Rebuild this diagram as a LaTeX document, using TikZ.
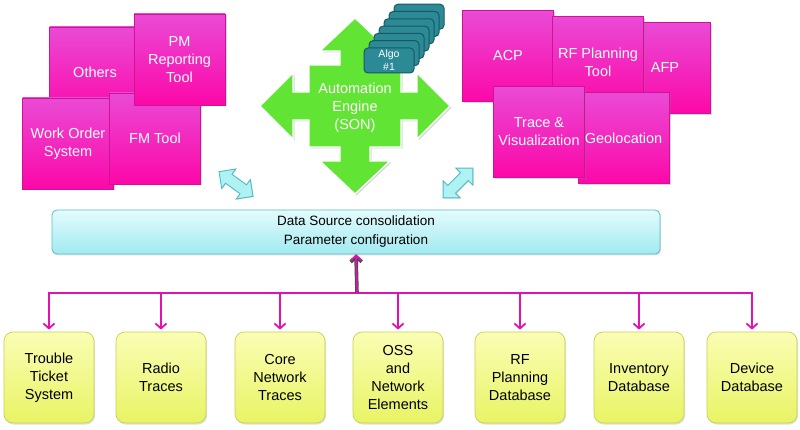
\documentclass[tikz,border=0pt]{standalone}
\usepackage{fontspec}
\setmainfont{Liberation Sans}
\usetikzlibrary{shadows,arrows.meta}
\definecolor{pinkT}{RGB}{234,74,214}
\definecolor{pinkB}{RGB}{252,8,168}
\definecolor{pinkD}{RGB}{205,20,150}
\definecolor{grnF}{RGB}{98,228,52}
\definecolor{algoF}{RGB}{43,138,150}
\definecolor{algoD}{RGB}{25,88,98}
\definecolor{cyF}{RGB}{175,242,244}
\definecolor{cyD}{RGB}{78,188,196}
\definecolor{dsT}{RGB}{228,251,253}
\definecolor{dsB}{RGB}{160,234,240}
\definecolor{dsD}{RGB}{92,190,200}
\definecolor{srcT}{RGB}{250,253,180}
\definecolor{srcB}{RGB}{232,244,100}
\definecolor{srcD}{RGB}{196,212,80}
\definecolor{busC}{RGB}{226,18,178}
\begin{document}
\begin{tikzpicture}[x=1pt,y=-1pt,
  pinkbox/.style={draw=pinkD, line width=0.6pt, top color=pinkT, bottom color=pinkB,
    minimum width=91pt, minimum height=91pt, inner sep=1pt, text=white, align=center,
    font=\fontsize{14.5}{18}\selectfont,
    drop shadow={shadow xshift=1.5pt, shadow yshift=-1.5pt, opacity=0.3}},
  srcbox/.style={draw=srcD, line width=0.7pt, top color=srcT, bottom color=srcB,
    rounded corners=9pt, minimum width=90pt, minimum height=91pt, inner sep=1pt,
    text=black, align=center, font=\fontsize{14.5}{18}\selectfont,
    drop shadow={shadow xshift=1pt, shadow yshift=-1.5pt, opacity=0.25}},
  algocard/.style={draw=algoD, line width=1pt, fill=algoF, rounded corners=4pt,
    minimum width=50pt, minimum height=25pt, inner sep=0pt, text=white, align=center,
    font=\fontsize{10.5}{13}\selectfont},
  cyarrow/.style={draw=cyD, line width=0.9pt, fill=cyF,
    drop shadow={shadow xshift=0.8pt, shadow yshift=-0.8pt, opacity=0.25}},
  bus/.style={draw=busC, line width=1.8pt, -{Straight Barb[length=5pt,width=11pt]}, shorten >=2pt},
]
\useasboundingbox (0,0) rectangle (800,430);
\fill[white] (0,0) rectangle (800,430);

% left tool group
\node[pinkbox] (others) at (95,72.5) {Others};
\node[pinkbox] (wos) at (68,143.5) {Work Order\\System};
\node[pinkbox] (fm) at (155,138.5) {FM Tool};
\node[pinkbox] (pm) at (179.5,59.5) {PM\\Reporting\\Tool};

% right tool group
\node[pinkbox] (acp) at (508,56) {ACP};
\node[pinkbox] (afp) at (665,68) {AFP};
\node[pinkbox] (rfp) at (598,62) {RF Planning\\Tool};
\node[pinkbox] (geo) at (623.5,138) {Geolocation};
\node[pinkbox] (trace) at (539,132) {Trace \&\\Visualization};

% automation engine quad arrow
\draw[draw=white, line width=1.3pt, fill=grnF,
  drop shadow={shadow xshift=1.5pt, shadow yshift=-1.5pt, opacity=0.3}]
  (355,18) -- (390,51) -- (370,51) -- (370,65) -- (401,65) -- (401,92) -- (417,92)
  -- (417,73) -- (450,106) -- (417,139) -- (417,120) -- (401,120) -- (401,147)
  -- (370,147) -- (370,161) -- (390,161) -- (355,194) -- (320,161) -- (340,161)
  -- (340,147) -- (309,147) -- (309,120) -- (293,120) -- (293,139) -- (260,106)
  -- (293,73) -- (293,92) -- (309,92) -- (309,65) -- (340,65) -- (340,51)
  -- (320,51) -- cycle;
\node[text=white, align=center, font=\fontsize{14.5}{18}\selectfont] (eng) at (355,108)
  {Automation\\Engine\\(SON)};

% algorithm stack
\foreach \i in {6,5,...,1}
  \node[algocard] (algo\i) at ({389+5*\i},{60.5-7.3*\i}) {};
\node[algocard] (algo0) at (389,60.5) {Algo\\\#1};

% cyan double arrows
\begin{scope}[shift={(236,184)}, rotate=-36]
\draw[cyarrow] (-21,0) -- (-9,-12) -- (-9,-5.5) -- (9,-5.5) -- (9,-12) -- (21,0)
  -- (9,12) -- (9,5.5) -- (-9,5.5) -- (-9,12) -- cycle;
\end{scope}
\begin{scope}[shift={(458,183)}, rotate=45]
\draw[cyarrow] (-21,0) -- (-9,-12) -- (-9,-5.5) -- (9,-5.5) -- (9,-12) -- (21,0)
  -- (9,12) -- (9,5.5) -- (-9,5.5) -- (-9,12) -- cycle;
\end{scope}

% data source box
\node[draw=dsD, line width=0.8pt, top color=dsT, bottom color=dsB, rounded corners=5pt,
  minimum width=608pt, minimum height=44pt, inner sep=1pt, align=center,
  font=\fontsize{13.5}{19}\selectfont,
  drop shadow={shadow xshift=1pt, shadow yshift=-1.5pt, opacity=0.25}]
  (ds) at (356,232) {Data Source consolidation\\Parameter configuration};

% bottom sources
\node[srcbox] (b1) at (49,377.5) {Trouble\\Ticket\\System};
\node[srcbox] (b2) at (161,377.5) {Radio\\Traces};
\node[srcbox] (b3) at (280,377.5) {Core\\Network\\Traces};
\node[srcbox] (b4) at (398,377.5) {OSS\\and\\Network\\Elements};
\node[srcbox] (b5) at (520,377.5) {RF\\Planning\\Database};
\node[srcbox] (b6) at (639,377.5) {Inventory\\Database};
\node[srcbox] (b7) at (752,377.5) {Device\\Database};

% bus
\coordinate (hub) at (357,293);
\foreach \n in {b1,b2,b3,b4,b5,b6,b7}
  \draw[bus] (hub) -| (\n.north);
\draw[line width=3.6pt, black!70, -{Straight Barb[length=5pt,width=11pt]}] (hub) -- (ds.south);
\draw[line width=1.6pt, busC, -{Straight Barb[length=5pt,width=11pt]}] (hub) -- (ds.south);
\end{tikzpicture}
\end{document}
